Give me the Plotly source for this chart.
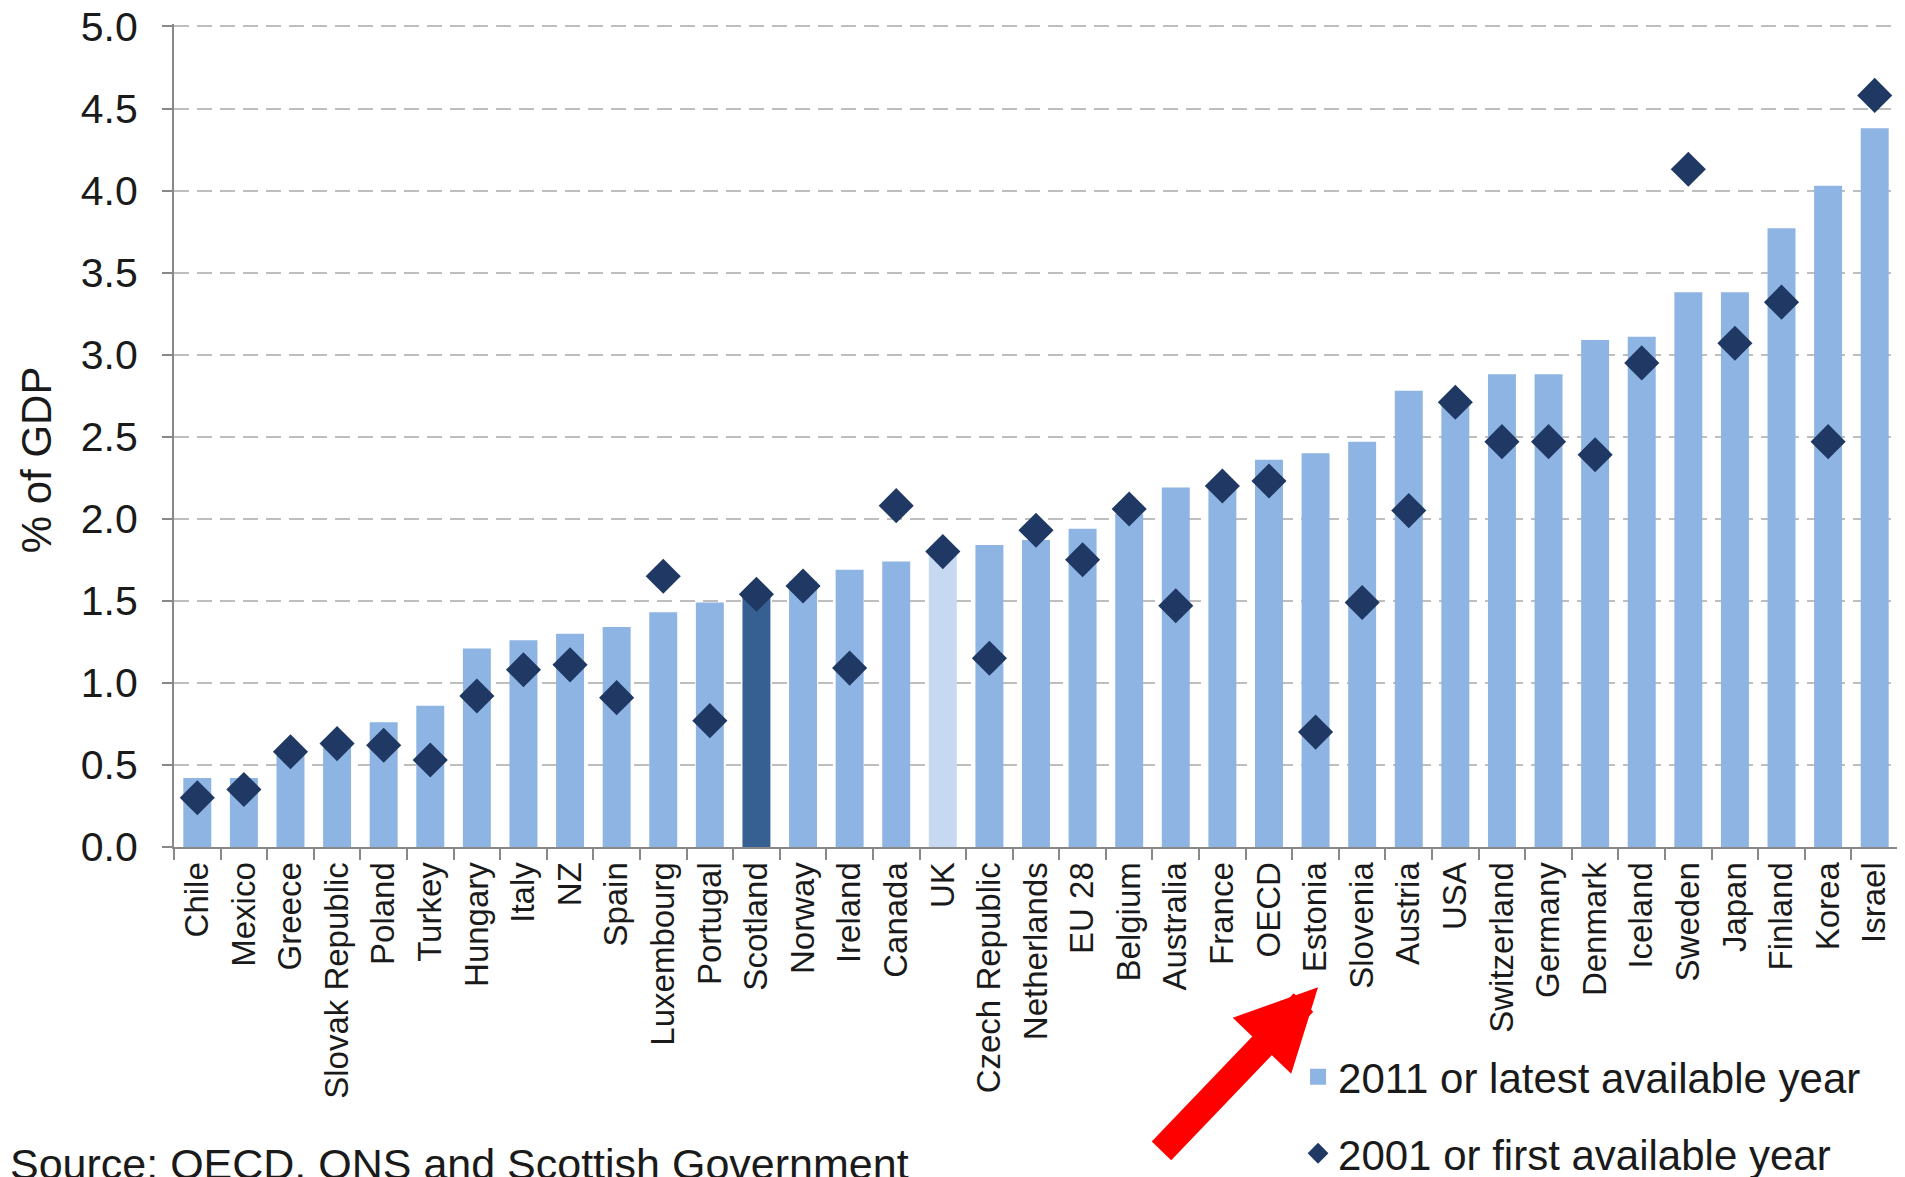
import plotly.graph_objects as go

countries = ["Chile", "Mexico", "Greece", "Slovak Republic", "Poland", "Turkey", "Hungary",
             "Italy", "NZ", "Spain", "Luxembourg", "Portugal", "Scotland", "Norway", "Ireland",
             "Canada", "UK", "Czech Republic", "Netherlands", "EU 28", "Belgium", "Australia",
             "France", "OECD", "Estonia", "Slovenia", "Austria", "USA", "Switzerland", "Germany",
             "Denmark", "Iceland", "Sweden", "Japan", "Finland", "Korea", "Israel"]

latest = [0.42, 0.42, 0.57, 0.62, 0.76, 0.86, 1.21,
          1.26, 1.30, 1.34, 1.43, 1.49, 1.56, 1.62, 1.69,
          1.74, 1.79, 1.84, 1.87, 1.94, 2.03, 2.19,
          2.18, 2.36, 2.40, 2.47, 2.78, 2.70, 2.88, 2.88,
          3.09, 3.11, 3.38, 3.38, 3.77, 4.03, 4.38]

first = [0.30, 0.35, 0.58, 0.63, 0.62, 0.53, 0.92,
         1.08, 1.11, 0.91, 1.65, 0.77, 1.54, 1.59, 1.09,
         2.08, 1.80, 1.15, 1.93, 1.75, 2.06, 1.47,
         2.20, 2.23, 0.70, 1.49, 2.05, 2.71, 2.47, 2.47,
         2.39, 2.95, 4.13, 3.07, 3.32, 2.47, 4.58]

y_ticks = [0, 0.5, 1, 1.5, 2, 2.5, 3, 3.5, 4, 4.5, 5]

BAR = "#8DB4E2"
highlight = {"Scotland": "#376092", "UK": "#C6D9F1"}
DIAMOND = "#1F3864"
FONT = "Liberation Sans, Arial, sans-serif"

fig = go.Figure()
fig.add_trace(go.Bar(
    x=countries, y=latest,
    marker=dict(color=[highlight.get(c, BAR) for c in countries], line_width=0),
    name="2011 or latest available year",
    showlegend=False,
))
# legend stand-in so the square symbol can be bigger than plotly's bar swatch
fig.add_trace(go.Scatter(
    x=[None], y=[None], mode="markers",
    marker=dict(symbol="square", color=BAR, size=16),
    name="2011 or latest available year", legendgroup="a",
))
fig.add_trace(go.Scatter(
    x=countries, y=first, mode="markers",
    marker=dict(symbol="diamond", color=DIAMOND, size=27),
    name="2001 or first available year", legendgroup="b",
))

# the page body adds an 8px offset, so margins are shifted to compensate
fig.update_layout(
    width=1905, height=1177,
    margin=dict(l=166, r=15, t=16, b=338, autoexpand=False),
    plot_bgcolor="white", paper_bgcolor="white",
    font=dict(family=FONT, color="#1a1a1a"),
    bargap=0.4,
    legend=dict(
        x=0.652, y=-0.238, xanchor="left", yanchor="top",
        font=dict(size=42, color="#1a1a1a"),
        itemwidth=30, tracegroupgap=19,
        bgcolor="rgba(0,0,0,0)",
    ),
)

fig.update_xaxes(
    type="category", automargin=False,
    range=[-0.5, len(countries) - 0.5],
    tickangle=-90, tickfont=dict(size=33, color="#1a1a1a"),
    showline=True, linecolor="#888888", linewidth=2,
    ticks="outside", tickson="boundaries", ticklen=11, tickcolor="#888888", tickwidth=2,
    showgrid=False,
)
fig.update_yaxes(
    range=[0, 5.015], tickvals=y_ticks, tickformat=".1f", automargin=False,
    ticklabeloverflow="allow",
    tickfont=dict(size=41, color="#1a1a1a"),
    showline=True, linecolor="#888888", linewidth=2,
    ticks="outside", ticklen=10, tickcolor="#888888", tickwidth=2,
    ticklabelstandoff=16,
    showgrid=True, gridcolor="#BEBEBE", gridwidth=2, griddash="15px,8px",
    zeroline=False,
)

fig.add_annotation(
    xref="paper", yref="paper", x=-0.08, y=0.47,
    xanchor="center", yanchor="middle", textangle=-90,
    text="% of GDP", showarrow=False, font=dict(size=42, color="#1a1a1a"),
)

# red arrow pointing at Estonia
fig.add_annotation(
    xref="paper", yref="paper", x=0.6636, y=-0.1705,
    text="", showarrow=True,
    ax=-158, ay=165,
    arrowhead=2, arrowwidth=27, arrowsize=0.6, arrowcolor="#FF0000",
)

fig.add_annotation(
    xref="paper", yref="paper", x=-0.096, y=-0.353,
    xanchor="left", yanchor="top",
    text="Source: OECD, ONS and Scottish Government",
    showarrow=False, font=dict(size=43, color="#1a1a1a"),
)

fig.write_html("out.html")
